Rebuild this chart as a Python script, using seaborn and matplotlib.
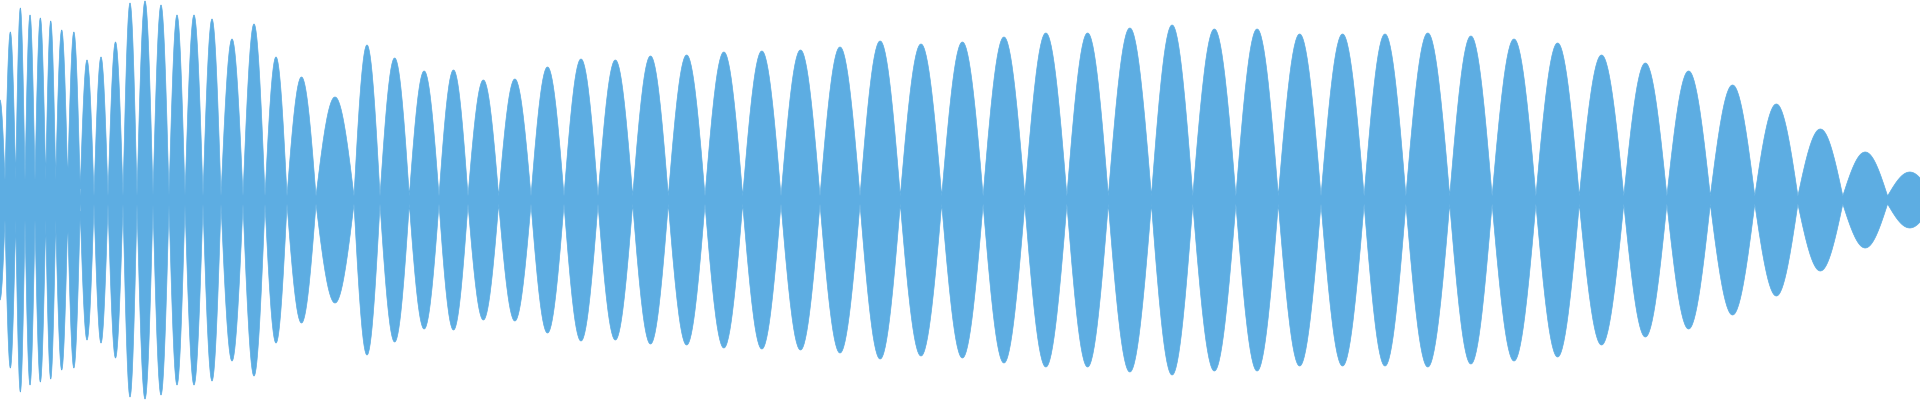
import numpy as np
import matplotlib
matplotlib.use("Agg")
import matplotlib.pyplot as plt
import seaborn as sns

# lobe boundaries (x positions of the waists) and the peak amplitude of each lobe
boundaries = [-5, 5, 15.7, 25, 35, 45.7, 55.7, 67.7, 80, 94, 108, 123, 137, 153, 169, 185,
              203, 221, 243, 265, 287, 316, 354, 380, 409.3, 439, 468, 498.7, 531, 564,
              598, 632.7, 668.3, 705, 742.7, 781, 820, 860, 900.3, 941.7, 983.1, 1024.8,
              1066.9, 1108.3, 1151.4, 1192.8, 1235.9, 1278.3, 1321, 1364.1, 1405.9, 1449.7,
              1492.1, 1535.9, 1579.3, 1623.8, 1666.9, 1710.3, 1754.8, 1797.9, 1842.8,
              1887.6, 1932]
peaks = [100, 168, 192, 185, 182, 179, 170, 168, 140, 143, 158, 197, 199, 195, 185, 185,
         181, 161, 176, 143, 123, 103, 155, 142, 129, 130, 120, 121, 133, 141, 140, 144,
         145, 148, 149, 150, 153, 159, 156, 158, 163, 167, 167, 172, 175, 171, 171, 166,
         166, 166, 167, 164, 161, 157, 145, 137, 129, 115, 96, 71, 48, 28]
# waist (minimum) amplitude for each lobe
floors = [20] * 8 + [4] * 54

sns.set_theme(style="white")
fig = plt.figure(figsize=(19.2, 4), dpi=100)
ax = fig.add_axes([0, 0, 1, 1])

xs_all, ys_all = [], []
for i, pk in enumerate(peaks):
    a, b = boundaries[i], boundaries[i + 1]
    t = np.linspace(0, 1, 60)
    xs_all.append(a + (b - a) * t)
    ys_all.append(floors[i] + (pk - floors[i]) * np.sin(np.pi * t))
x = np.concatenate(xs_all)
y = np.concatenate(ys_all)

color = "#5DADE2"
sns.lineplot(x=x, y=y, ax=ax, color=color, lw=0.5, sort=False)
sns.lineplot(x=x, y=-y, ax=ax, color=color, lw=0.5, sort=False)
ax.fill_between(x, -y, y, color=color, lw=0)
ax.set_xlim(0, 1920)
ax.set_ylim(-200, 200)
ax.axis("off")
fig.savefig("out.png", dpi=100, facecolor="white")
